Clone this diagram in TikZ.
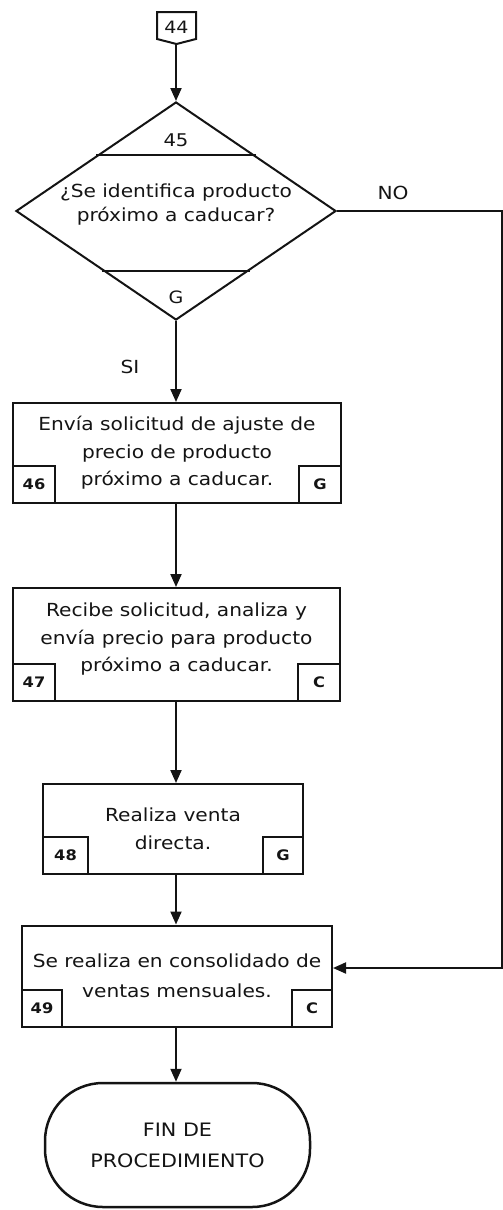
\documentclass[tikz,border=0pt]{standalone}
\usepackage{fontspec}
\setmainfont{DejaVu Sans}[FakeStretch=1.12]
\usetikzlibrary{positioning, arrows.meta, calc, shapes.geometric}
\definecolor{ink}{HTML}{141414}

\tikzset{
  proc/.style={draw=ink, line width=2pt, fill=white, align=center, inner sep=0pt,
    font=\fontsize{18}{27.5}\selectfont},
  tag/.style={draw=ink, line width=2pt, minimum width=42pt, minimum height=37pt,
    inner sep=0pt, font=\bfseries\fontsize{14.5}{16}\selectfont},
  flow/.style={draw=ink, line width=2pt, -{Triangle[width=11pt,length=13pt]}},
  txt/.style={font=\fontsize{18}{24}\selectfont, align=center}
}

\begin{document}
\begin{tikzpicture}[x=1pt, y=-1pt, text=ink]
\useasboundingbox (0,0) rectangle (503,1210);

% conector 44
\draw[ink, line width=2pt] (157,12) -- (196,12) -- (196,39) -- (176.5,44) -- (157,39) -- cycle;
\node[font=\fontsize{17}{19}\selectfont] (c44) at (176.5,27) {44};
\coordinate (c44s) at (176,44);

% decision 45
\node[draw=ink, line width=2pt, diamond, minimum width=320pt, minimum height=218pt,
  inner sep=0pt] (q) at (176,211) {};
\draw[ink, line width=2pt] ($(q.north)!0.495!(q.west)$) -- ($(q.north)!0.495!(q.east)$);
\draw[ink, line width=2pt] ($(q.south)!0.459!(q.west)$) -- ($(q.south)!0.459!(q.east)$);
\node[font=\fontsize{17.5}{19}\selectfont] (q45) at (176,140) {45};
\node[txt] (qt) at (176,205) {¿Se identifica producto\\próximo a caducar?};
\node[font=\fontsize{17}{19}\selectfont] (qg) at (176,297) {G};
\node[txt] (no) at (393,193) {NO};
\node[txt] (si) at (130,367) {SI};

% actividades
\node[proc, minimum width=328pt, minimum height=100pt] (b46) at (177,453)
  {Envía solicitud de ajuste de\\precio de producto\\próximo a caducar.};
\node[tag, anchor=south west] (b46n) at (b46.south west) {46};
\node[tag, anchor=south east] (b46r) at (b46.south east) {G};

\node[proc, minimum width=327pt, minimum height=113pt, text depth=14pt] (b47) at (176.5,644.5)
  {Recibe solicitud, analiza y\\envía precio para producto\\próximo a caducar.};
\node[tag, anchor=south west] (b47n) at (b47.south west) {47};
\node[tag, anchor=south east] (b47r) at (b47.south east) {C};

\node[proc, minimum width=260pt, minimum height=90pt] (b48) at (173,829)
  {Realiza venta\\directa.};
\node[tag, anchor=south west, minimum width=45pt] (b48n) at (b48.south west) {48};
\node[tag, anchor=south east, minimum width=40pt] (b48r) at (b48.south east) {G};

\node[proc, minimum width=310pt, minimum height=101pt,
  font=\fontsize{18}{30}\selectfont] (b49) at (177,976)
  {Se realiza en consolidado de\\ventas mensuales.};
\node[tag, anchor=south west, minimum width=40pt] (b49n) at (b49.south west) {49};
\node[tag, anchor=south east, minimum width=40pt] (b49r) at (b49.south east) {C};

% fin
\node[draw=ink, line width=2.5pt, rounded corners=58pt, minimum width=265pt,
  minimum height=124pt, align=center, font=\fontsize{18.5}{31}\selectfont]
  (fin) at (177.5,1145) {FIN DE\\PROCEDIMIENTO};

% flujo
\coordinate (noA) at (501.5,211);
\coordinate (noB) at (501.5,968);
\draw[flow] (c44s) -- (q.north);
\draw[flow] (q.south) -- (b46.north -| q.south);
\draw[flow] (b46.south -| q.south) -- (b47.north -| q.south);
\draw[flow] (b47.south -| q.south) -- (b48.north -| q.south);
\draw[flow] (b48.south -| q.south) -- (b49.north -| q.south);
\draw[flow] (b49.south -| q.south) -- (fin.north -| q.south);
\draw[flow] (q.east) -- (noA) -- (noB) -- (b49.east |- noB);
\end{tikzpicture}
\end{document}
